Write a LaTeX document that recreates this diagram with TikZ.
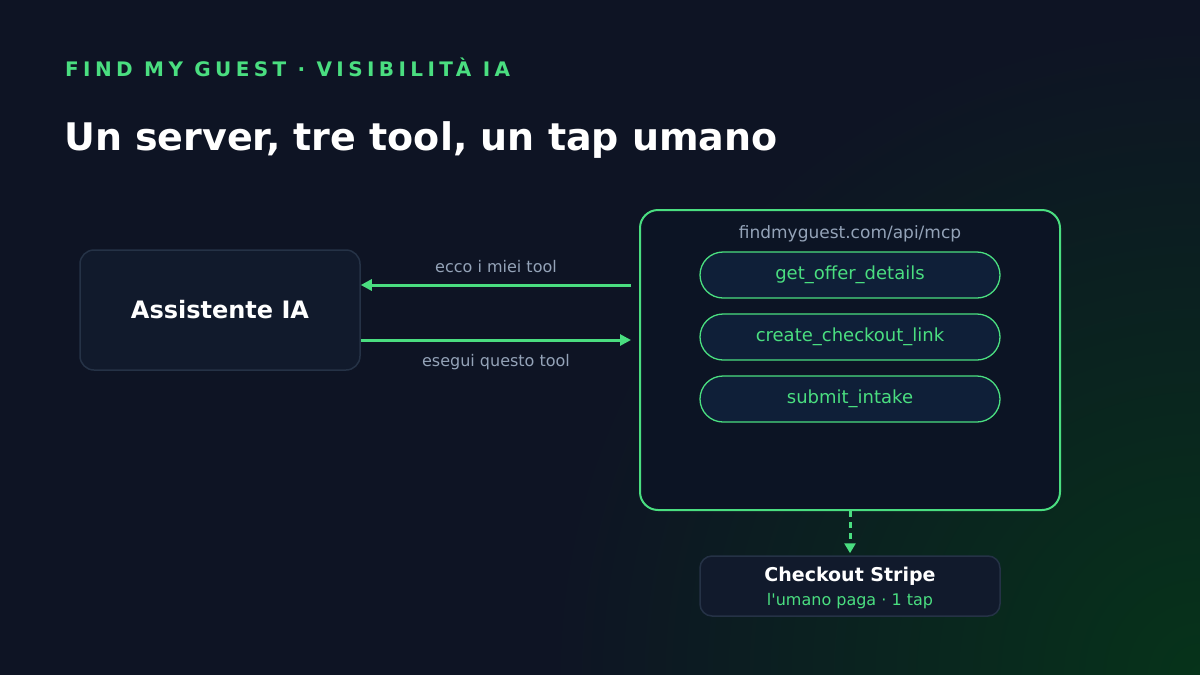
\documentclass[tikz,border=0pt]{standalone}
\usepackage{fontspec}
\setmainfont{DejaVu Sans}[Ligatures=TeXOff]
\usetikzlibrary{arrows.meta,calc}
\definecolor{bg}{HTML}{0E1424}
\definecolor{glowc}{HTML}{06331A}
\definecolor{accent}{HTML}{4ADE80}
\definecolor{muted}{HTML}{94A3B8}
\definecolor{cardfill}{HTML}{111A2C}
\definecolor{cardline}{HTML}{253246}
\definecolor{serverfill}{HTML}{0C1424}
\definecolor{pillfill}{HTML}{0F1F38}
\newcommand{\fs}[1]{\fontsize{#1}{#1}\selectfont}
\tikzset{
  card/.style={draw=cardline, line width=1.5pt, fill=cardfill, rounded corners=14pt},
  serverbox/.style={draw=accent, line width=2pt, fill=serverfill, rounded corners=18pt, minimum width=420pt, minimum height=300pt},
  pill/.style={draw=accent, line width=1.3pt, fill=pillfill, rounded corners=23pt, minimum width=300pt, minimum height=46pt, text=accent, font=\fs{18}},
  flow/.style={draw=accent, line width=3pt, -{Triangle[length=11pt,width=11pt]}},
  lbl/.style={text=muted, font=\fs{16}},
}
\begin{document}
\begin{tikzpicture}[x=1pt,y=-1pt]
\useasboundingbox (0,0) rectangle (1200,675);
\fill[bg] (0,0) rectangle (1200,675);
\begin{scope}
\clip (0,0) rectangle (1200,675);
\shade[inner color=glowc, outer color=bg] (1200pt,-675pt) circle (650pt);
\end{scope}
% header
\node[anchor=base west, inner sep=0, text=accent, font=\bfseries\fs{20}\addfontfeature{LetterSpace=22}] (kicker) at (65,76) {FIND MY GUEST · VISIBILITÀ IA};
\node[anchor=base west, inner sep=0, text=white, font=\bfseries\fs{38}] (title) at (64,150) {Un server, tre tool, un tap umano};
% assistant
\node[card, minimum width=280pt, minimum height=120pt, text=white, font=\bfseries\fs{24}] (asst) at (220,310) {Assistente IA};
% server
\node[serverbox] (server) at (850,360) {};
\node[lbl, font=\fs{17}, anchor=center] (url) at (850,234) {findmyguest.com/api/mcp};
\node[pill] (t1) at (850,275) {get\_offer\_details};
\node[pill] (t2) at (850,337) {create\_checkout\_link};
\node[pill] (t3) at (850,399) {submit\_intake};
% arrows
\coordinate (ya) at (0,285);
\coordinate (yb) at (0,340);
\draw[flow, shorten <=8pt] (server.west |- ya) -- (asst.east |- ya);
\draw[flow, shorten >=8pt] (asst.east |- yb) -- (server.west |- yb);
\node[lbl] (l1) at (496,267) {ecco i miei tool};
\node[lbl] (l2) at (496,362) {esegui questo tool};
% checkout
\node[card, rounded corners=12pt, minimum width=300pt, minimum height=60pt] (stripe) at (850,586) {};
\node[text=white, font=\bfseries\fs{19}] (st1) at (850,576) {Checkout Stripe};
\node[text=accent, font=\fs{16}] (st2) at (850,601) {l'umano paga · 1 tap};
\draw[draw=accent, line width=3pt, dash pattern=on 6pt off 5pt, -{Triangle[length=10pt,width=11pt]}] (server.south) -- ($(stripe.north)+(0,-2)$);
\end{tikzpicture}
\end{document}
